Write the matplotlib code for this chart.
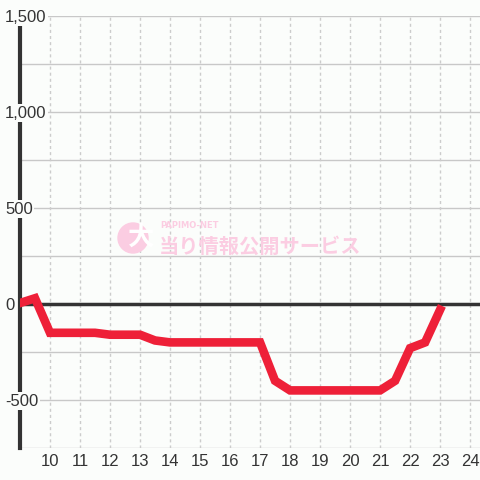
import matplotlib
matplotlib.use("Agg")
import matplotlib.pyplot as plt
from matplotlib.patches import Circle
from matplotlib.transforms import blended_transform_factory, offset_copy

# data: half-hour readings
hours = [9.0, 9.5, 10.0, 10.5, 11.0, 11.5, 12.0, 12.5, 13.0, 13.5, 14.0, 14.5,
         15.0, 15.5, 16.0, 16.5, 17.0, 17.5, 18.0, 18.5, 19.0, 19.5, 20.0, 20.5,
         21.0, 21.5, 22.0, 22.5, 23.0]
values = [5, 30, -150, -150, -150, -150, -160, -160, -160, -190, -200, -200,
          -200, -200, -200, -200, -200, -400, -450, -450, -450, -450, -450, -450,
          -450, -400, -230, -200, -30]
x_ticks = list(range(10, 25))
y_ticks = [-500, 0, 500, 1000, 1500]

BG = "#fbfdfb"
RED = "#ee2038"
DARK = "#333333"
GRID = "#c8c8c8"
PINK = "#fbcde2"

plt.rcParams["font.family"] = ["Liberation Sans", "DejaVu Sans"]

fig = plt.figure(figsize=(4.8, 4.8), dpi=100, facecolor=BG)
ax = fig.add_axes([20 / 480, 32 / 480, 460 / 480, 432 / 480])
ax.set_facecolor(BG)

ax.set_xlim(9.0, 24.33)
ax.set_ylim(-750, 1500)

# grid
for yv in range(-750, 1501, 250):
    ax.axhline(yv, color=GRID, lw=1, zorder=0)
for xv in x_ticks:
    ax.axvline(xv, color="#cccccc", lw=1, ls=(0, (2.2, 2.2)), zorder=0)
ax.axhline(0, color=DARK, lw=2.5, zorder=1)

# watermark
fig.patches.append(Circle((133 / 480, 1 - 238 / 480), 15 / 480, transform=fig.transFigure,
                          color=PINK, zorder=0))
fig.text(141 / 480, 1 - 237 / 480, "大", color="white", fontsize=19, weight="bold",
         ha="center", va="center", family=["Noto Sans CJK JP"], zorder=1)
fig.text(160 / 480, 1 - 226 / 480, "PAPIMO-NET", color=PINK, fontsize=6, weight="bold",
         ha="left", va="center", family=["DejaVu Sans"])
fig.text(159 / 480, 1 - 246 / 480, "当り情報公開サービス", color=PINK, fontsize=14.6,
         weight="bold", ha="left", va="center", family=["Noto Sans CJK JP"])

ax.plot(hours, values, color=RED, lw=6.2, solid_joinstyle="miter", zorder=3)

for s in ["top", "right", "bottom"]:
    ax.spines[s].set_visible(False)
ax.spines["left"].set_color(DARK)
ax.spines["left"].set_linewidth(3)
ax.spines["left"].set_zorder(2)

ax.set_xticks(x_ticks)
ax.set_xticklabels([str(t) for t in x_ticks], color=DARK, fontsize=12)
ax.tick_params(axis="x", length=0, pad=4)

# y labels drawn over the left spine, left-aligned near the figure edge
ax.set_yticks(y_ticks)
ax.set_yticklabels([])
ax.tick_params(axis="y", length=0)
trans = blended_transform_factory(fig.transFigure, ax.transData)
trans = offset_copy(trans, fig=fig, y=-1, units="dots")
for yv in y_ticks:
    ax.text(5 / 480, yv, f"{yv:,}", transform=trans, ha="left", va="center",
            color=DARK, fontsize=12, zorder=5, clip_on=False,
            bbox=dict(facecolor=BG, edgecolor="none", pad=1))

fig.savefig("out.png", dpi=100, facecolor=BG)
